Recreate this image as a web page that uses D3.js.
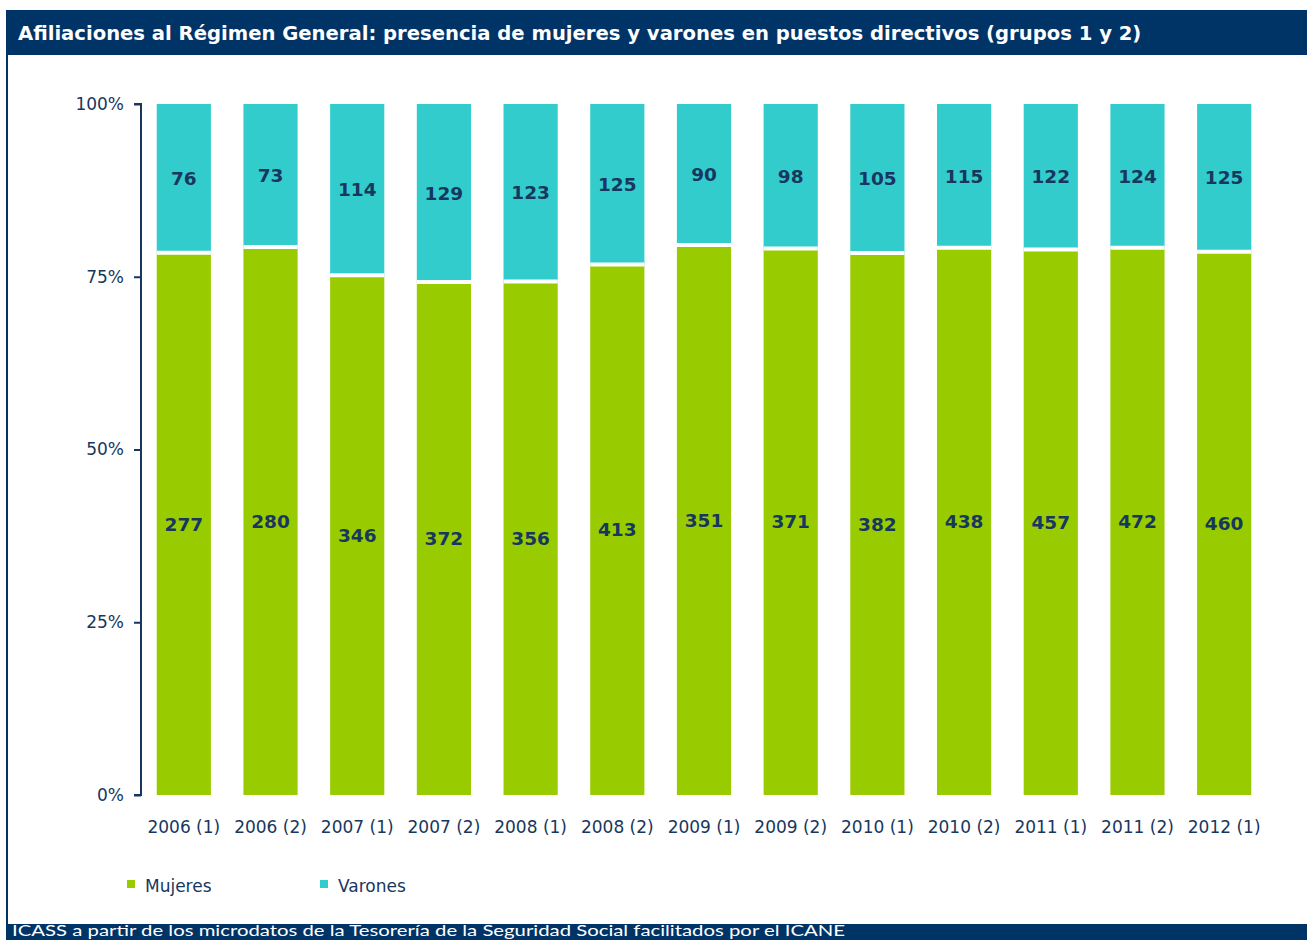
<!DOCTYPE html>
<html>
<head>
<meta charset="utf-8">
<script src="https://cdn.jsdelivr.net/npm/d3@7"></script>
<style>
  body { margin: 0; background: #fff; }
  svg { display: block; }
  text { font-family: "DejaVu Sans", sans-serif; }
</style>
</head>
<body>
<svg id="chart" width="1307" height="940"></svg>
<script>
// datos
const periodos = ["2006 (1)", "2006 (2)", "2007 (1)", "2007 (2)", "2008 (1)", "2008 (2)", "2009 (1)",
                  "2009 (2)", "2010 (1)", "2010 (2)", "2011 (1)", "2011 (2)", "2012 (1)"];
const mujeres = [277, 280, 346, 372, 356, 413, 351, 371, 382, 438, 457, 472, 460];
const varones = [76, 73, 114, 129, 123, 125, 90, 98, 105, 115, 122, 124, 125];
const yTicks = [0, 0.25, 0.5, 0.75, 1];
const titulo = "Afiliaciones al Régimen General: presencia de mujeres y varones en puestos directivos (grupos 1 y 2)";
const fuente = "ICASS a partir de los microdatos de la Tesorería de la Seguridad Social facilitados por el ICANE";

const navy = "#003366";
const txt = "#17375E";
const verde = "#99CC00";
const cian = "#33CCCC";

const svg = d3.select("#chart");
const W = +svg.attr("width"), H = +svg.attr("height");

// marco
svg.append("rect").attr("x", 7).attr("y", 11).attr("width", W).attr("height", H)
  .attr("fill", "#fff").attr("stroke", navy).attr("stroke-width", 2);
svg.append("rect").attr("x", 6).attr("y", 11).attr("width", W - 6).attr("height", 44).attr("fill", navy);
svg.append("text").attr("x", 18).attr("y", 40).attr("fill", "#fff")
  .style("font-size", "19.6px").style("font-weight", "bold").text(titulo);
svg.append("rect").attr("x", 6).attr("y", 924).attr("width", W - 6).attr("height", 20).attr("fill", navy);
svg.append("text").attr("x", 12).attr("y", 936).attr("fill", "#fff")
  .attr("textLength", 833).attr("lengthAdjust", "spacingAndGlyphs")
  .style("font-family", "Lato, sans-serif").style("font-size", "15px").text(fuente);

const x = d3.scaleBand().domain(periodos).range([142, 1266]).paddingInner(0.375).paddingOuter(0.17);
const y = d3.scaleLinear().domain([0, 1]).range([795, 104]);

const datos = periodos.map((p, i) => {
  const tot = mujeres[i] + varones[i];
  return { p, m: mujeres[i], v: varones[i], fm: mujeres[i] / tot };
});

const g = svg.append("g");
// varones (arriba)
g.selectAll(".var").data(datos).enter().append("rect")
  .attr("x", d => x(d.p)).attr("width", x.bandwidth())
  .attr("y", y(1)).attr("height", d => y(d.fm) - y(1))
  .attr("fill", cian);
// mujeres (abajo)
g.selectAll(".muj").data(datos).enter().append("rect")
  .attr("x", d => x(d.p)).attr("width", x.bandwidth())
  .attr("y", d => y(d.fm)).attr("height", d => y(0) - y(d.fm))
  .attr("fill", verde);
// separacion blanca
g.selectAll(".sep").data(datos).enter().append("line")
  .attr("x1", d => x(d.p)).attr("x2", d => x(d.p) + x.bandwidth())
  .attr("y1", d => y(d.fm)).attr("y2", d => y(d.fm))
  .attr("stroke", "#fff").attr("stroke-width", 4);

// etiquetas
g.selectAll(".lv").data(datos).enter().append("text")
  .attr("x", d => x(d.p) + x.bandwidth() / 2)
  .attr("y", d => (y(1) + y(d.fm)) / 2).attr("dy", "0.36em")
  .attr("text-anchor", "middle").attr("fill", txt)
  .style("font-size", "18.5px").style("font-weight", "bold")
  .text(d => d.v);
g.selectAll(".lm").data(datos).enter().append("text")
  .attr("x", d => x(d.p) + x.bandwidth() / 2)
  .attr("y", d => (y(0) + y(d.fm)) / 2).attr("dy", "0.36em")
  .attr("text-anchor", "middle").attr("fill", txt)
  .style("font-size", "18.5px").style("font-weight", "bold")
  .text(d => d.m);

// eje y
const yAxis = svg.append("g").attr("transform", "translate(141,0)")
  .call(d3.axisLeft(y).tickValues(yTicks).tickFormat(d3.format(".0%")).tickSize(7).tickPadding(10));
yAxis.select(".domain").attr("stroke", txt).attr("stroke-width", 2)
  .attr("d", "M-7," + y(1) + "H0V" + y(0) + "H-7");
yAxis.selectAll(".tick line").attr("stroke", txt).attr("stroke-width", 2);
yAxis.selectAll(".tick text").attr("fill", txt).style("font-size", "17px")
  .style("font-family", "DejaVu Sans, sans-serif");

// eje x (solo etiquetas)
const xAxis = svg.append("g").attr("transform", "translate(0,795)")
  .call(d3.axisBottom(x).tickSize(0).tickPadding(26));
xAxis.select(".domain").remove();
xAxis.selectAll(".tick text").attr("fill", txt).style("font-size", "17px")
  .style("font-family", "DejaVu Sans, sans-serif");

// leyenda
const leyenda = [{ n: "Mujeres", c: verde, x: 127 }, { n: "Varones", c: cian, x: 320 }];
const lg = svg.append("g").selectAll("g").data(leyenda).enter().append("g");
lg.append("rect").attr("x", d => d.x).attr("y", 880).attr("width", 8).attr("height", 8).attr("fill", d => d.c);
lg.append("text").attr("x", d => d.x + 18).attr("y", 892).attr("fill", txt)
  .style("font-size", "17px").text(d => d.n);
</script>
</body>
</html>
